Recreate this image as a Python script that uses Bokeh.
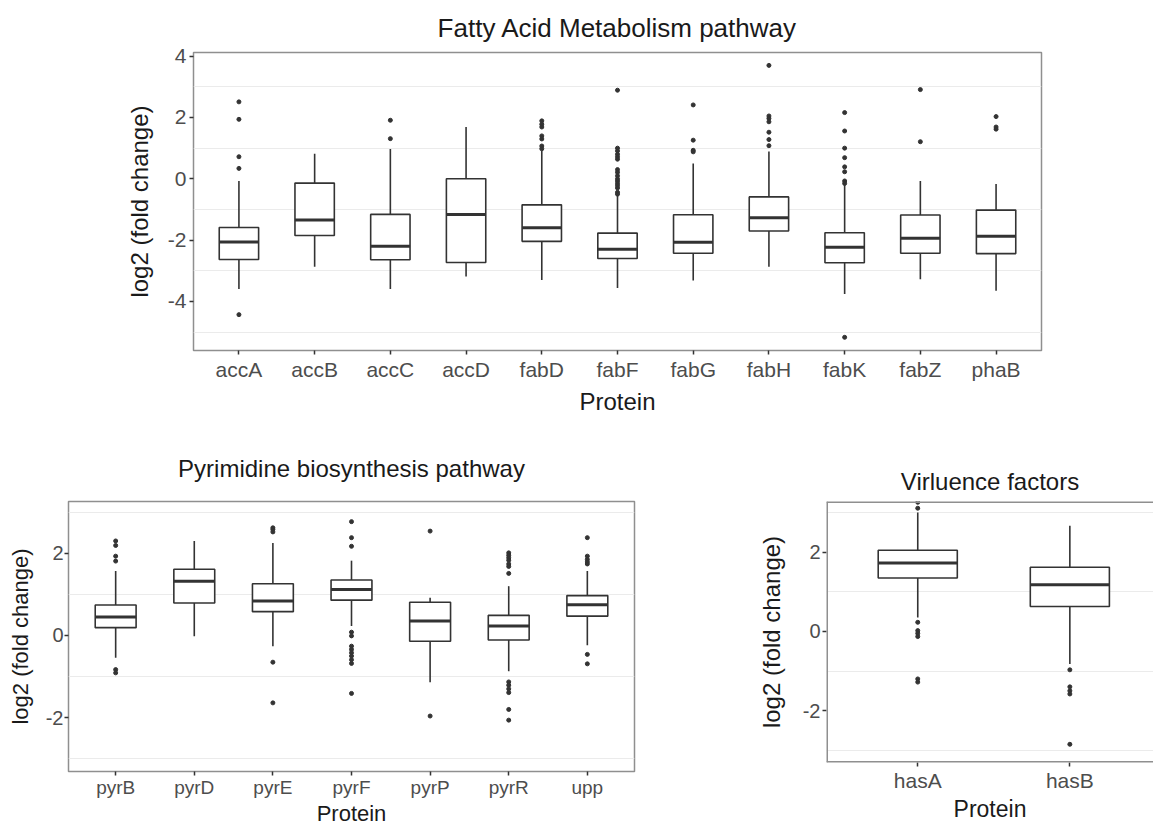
from bokeh.plotting import figure
from bokeh.layouts import column, row
from bokeh.models import FixedTicker, Span, Range1d
from bokeh.embed import file_html
from bokeh.resources import INLINE

FONT = "Liberation Sans"

# ---------------- Fatty Acid Metabolism pathway ----------------
fatty_proteins = ["accA", "accB", "accC", "accD", "fabD", "fabF", "fabG", "fabH", "fabK", "fabZ", "phaB"]
fatty_lower = [-3.59, -2.87, -3.59, -3.19, -3.30, -3.56, -3.32, -2.87, -3.76, -3.28, -3.65]
fatty_q1 = [-2.63, -1.85, -2.64, -2.73, -2.04, -2.60, -2.43, -1.70, -2.74, -2.43, -2.44]
fatty_median = [-2.06, -1.34, -2.20, -1.16, -1.60, -2.30, -2.07, -1.27, -2.23, -1.94, -1.87]
fatty_q3 = [-1.59, -0.14, -1.16, 0.00, -0.85, -1.77, -1.17, -0.59, -1.76, -1.18, -1.02]
fatty_upper = [-0.07, 0.82, 0.97, 1.69, 0.92, -0.52, 0.50, 0.89, -0.20, -0.07, -0.17]
fatty_outlier_protein = (["accA"] * 5 + ["accC"] * 2 + ["fabD"] * 7 + ["fabF"] * 16 + ["fabG"] * 4
                         + ["fabH"] * 7 + ["fabK"] * 9 + ["fabZ"] * 2 + ["phaB"] * 3)
fatty_outlier_value = [2.51, 1.94, 0.72, 0.34, -4.43,
                       1.91, 1.31,
                       1.89, 1.78, 1.69, 1.40, 1.30, 1.07, 0.98,
                       2.89, 1.00, 0.91, 0.80, 0.72, 0.64, 0.30, 0.21, 0.10, 0.00, -0.07, -0.15, -0.22, -0.30, -0.44, -0.50,
                       2.41, 1.26, 0.93, 0.88,
                       3.70, 2.05, 1.97, 1.86, 1.52, 1.28, 1.08,
                       2.16, 1.56, 1.00, 0.69, 0.39, 0.23, -0.07, -0.15, -5.17,
                       2.91, 1.21,
                       2.03, 1.69, 1.62]

# ---------------- Pyrimidine biosynthesis pathway ----------------
pyr_proteins = ["pyrB", "pyrD", "pyrE", "pyrF", "pyrP", "pyrR", "upp"]
pyr_lower = [-0.54, -0.02, -0.26, 0.23, -1.14, -0.87, -0.24]
pyr_q1 = [0.19, 0.79, 0.58, 0.86, -0.14, -0.11, 0.47]
pyr_median = [0.45, 1.32, 0.84, 1.12, 0.35, 0.23, 0.75]
pyr_q3 = [0.74, 1.61, 1.26, 1.35, 0.81, 0.49, 0.97]
pyr_upper = [1.57, 2.30, 2.25, 1.82, 0.92, 1.20, 1.57]
pyr_outlier_protein = (["pyrB"] * 6 + ["pyrE"] * 5 + ["pyrF"] * 12 + ["pyrP"] * 2
                       + ["pyrR"] * 13 + ["upp"] * 7)
pyr_outlier_value = [2.30, 2.19, 1.93, 1.81, -0.83, -0.91,
                     2.62, 2.58, 2.52, -0.65, -1.64,
                     2.77, 2.38, 2.17, 0.08, -0.01, -0.26, -0.34, -0.42, -0.50, -0.59, -0.68, -1.41,
                     2.54, -1.96,
                     2.01, 1.95, 1.89, 1.83, 1.74, 1.68, 1.51, -1.13, -1.21, -1.30, -1.39, -1.80, -2.06,
                     2.38, 1.93, 1.85, 1.79, 1.74, -0.46, -0.69]

# ---------------- Virluence factors ----------------
vir_proteins = ["hasA", "hasB"]
vir_lower = [0.35, -0.82]
vir_q1 = [1.35, 0.63]
vir_median = [1.73, 1.18]
vir_q3 = [2.05, 1.62]
vir_upper = [3.00, 2.67]
vir_outlier_protein = ["hasA"] * 8 + ["hasB"] * 5
vir_outlier_value = [3.26, 3.11, 0.23, 0.02, -0.05, -0.13, -1.20, -1.28,
                     -0.97, -1.40, -1.50, -1.58, -2.85]

X_LABEL = "Protein"
Y_LABEL = "log2 (fold change)"

INK = "#333333"
BORDER = "#8f8f8f"
GRID = "#ebebeb"


def panel(title, proteins, lower, q1, med, q3, upper, out_p, out_v,
          y_range, y_ticks, grid_ticks, x_end, fw, fh, mbl, mbt, mbr, mbb,
          title_size, title_standoff, xlabel_size, ylabel_size, xtick_size, ytick_size,
          x_standoff, y_standoff, tick_standoff, box_outline=True):
    n = len(proteins)
    x_start = 0.4
    p = figure(frame_width=fw, frame_height=fh, title=title,
               x_range=Range1d(x_start, x_end), y_range=Range1d(*y_range),
               min_border_left=mbl, min_border_top=mbt, min_border_right=mbr, min_border_bottom=mbb,
               output_backend="svg", toolbar_location=None)
    p.background_fill_color = "white"
    p.border_fill_color = "white"
    if box_outline:
        p.outline_line_color = BORDER
        p.outline_line_width = 1.5
    else:
        p.outline_line_color = None
        for loc in (y_range[0], y_range[1]):
            p.add_layout(Span(location=loc, dimension="width", line_color=BORDER, line_width=3))
        p.add_layout(Span(location=x_start, dimension="height", line_color=BORDER, line_width=3))

    p.title.text_font = FONT
    p.title.text_font_size = f"{title_size}px"
    p.title.text_font_style = "normal"
    p.title.text_color = "#1a1a1a"
    p.title.align = "center"
    p.title.standoff = title_standoff

    p.xgrid.grid_line_color = None
    p.ygrid.ticker = FixedTicker(ticks=grid_ticks)
    p.ygrid.grid_line_color = GRID
    p.ygrid.grid_line_width = 1.2

    xs = list(range(1, n + 1))
    pos = {name: i + 1 for i, name in enumerate(proteins)}
    half = 0.26

    p.segment(x0=xs, y0=q3, x1=xs, y1=upper, line_color=INK, line_width=1.6)
    p.segment(x0=xs, y0=q1, x1=xs, y1=lower, line_color=INK, line_width=1.6)
    p.vbar(x=xs, bottom=q1, top=q3, width=2 * half, fill_color="white",
           line_color=INK, line_width=1.6)
    p.segment(x0=[x - half for x in xs], y0=med, x1=[x + half for x in xs], y1=med,
              line_color=INK, line_width=3)
    p.scatter(x=[pos[name] for name in out_p], y=out_v, size=4,
              fill_color=INK, line_color=INK)

    p.xaxis.ticker = FixedTicker(ticks=xs)
    p.xaxis.major_label_overrides = {x: name for x, name in zip(xs, proteins)}
    p.yaxis.ticker = FixedTicker(ticks=y_ticks)
    p.yaxis.major_label_overrides = {t: str(t) for t in y_ticks}
    for ax in (p.xaxis[0], p.yaxis[0]):
        ax.axis_line_color = None
        ax.major_tick_line_color = INK
        ax.major_tick_line_width = 1.5
        ax.major_tick_out = 4
        ax.major_tick_in = 0
        ax.minor_tick_line_color = None
        ax.major_label_text_font = FONT
        ax.major_label_text_color = "#4d4d4d"
        ax.axis_label_text_font = FONT
        ax.axis_label_text_font_style = "normal"
        ax.axis_label_text_color = "#1a1a1a"
        ax.major_label_standoff = tick_standoff
    p.xaxis.axis_label_standoff = x_standoff
    p.yaxis.axis_label_standoff = y_standoff
    p.xaxis.axis_label_text_font_size = f"{xlabel_size}px"
    p.yaxis.axis_label_text_font_size = f"{ylabel_size}px"
    p.xaxis.major_label_text_font_size = f"{xtick_size}px"
    p.yaxis.major_label_text_font_size = f"{ytick_size}px"
    p.xaxis.axis_label = X_LABEL
    p.yaxis.axis_label = Y_LABEL
    return p


p_top = panel("Fatty Acid Metabolism pathway", fatty_proteins, fatty_lower, fatty_q1,
              fatty_median, fatty_q3, fatty_upper, fatty_outlier_protein, fatty_outlier_value,
              (-5.6, 4.12), [-4, -2, 0, 2, 4], [-5, -3, -1, 1, 3], 11.6,
              848, 298, 193, 52, 10, 79,
              26, 20, 24, 24, 21, 21, 4, 12, 3)

p_bl = panel("Pyrimidine biosynthesis pathway", pyr_proteins, pyr_lower, pyr_q1,
             pyr_median, pyr_q3, pyr_upper, pyr_outlier_protein, pyr_outlier_value,
             (-3.31, 3.26), [-2, 0, 2], [-3, -1, 1, 3], 7.6,
             566, 270, 68, 70, 74, 58,
             24, 40, 22, 22, 19, 20, 0, 10, 1)

p_br = panel("Virluence factors", vir_proteins, vir_lower, vir_q1,
             vir_median, vir_q3, vir_upper, vir_outlier_protein, vir_outlier_value,
             (-3.31, 3.28), [-2, 0, 2], [-3, -1, 1, 3], 2.55,
             327, 261, 118, 72, 0, 65,
             24, 14, 23, 24, 21, 20, 1, 15, 2, box_outline=False)

layout = column(p_top, row(p_bl, p_br, spacing=0), spacing=0)

open("out.html", "w").write(file_html(layout, INLINE))
